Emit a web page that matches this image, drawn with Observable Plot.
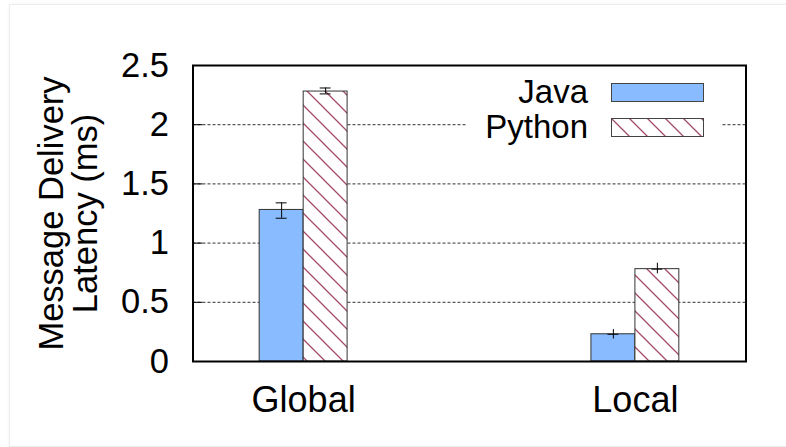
<!DOCTYPE html>
<html>
<head>
<meta charset="utf-8">
<script src="https://cdn.jsdelivr.net/npm/d3@7"></script>
<script src="https://cdn.jsdelivr.net/npm/@observablehq/plot@0.6"></script>
<style>
  html, body { margin: 0; padding: 0; background: #fff; }
  body { width: 786px; height: 447px; position: relative; overflow: hidden; font-family: "Liberation Sans", Arial, Helvetica, sans-serif; }
  #page { position: absolute; left: 9px; top: 4px; width: 790px; height: 441px; border: 1px solid #ececec; box-shadow: 0 0 3px rgba(0,0,0,0.06); }
  #chart { position: absolute; left: 0; top: 0; }
  #legend { position: absolute; left: 467px; top: 73px; width: 255px; height: 68px; background: #fff; }
  .row { position: absolute; left: 0; width: 255px; height: 34px; }
  .row span { position: absolute; right: 134px; top: 0; font-size: 33px; line-height: 34px; color: #000; }
  .row svg { position: absolute; left: 144px; top: 8px; }
</style>
</head>
<body>
<svg width="0" height="0" style="position:absolute">
  <defs>
    <pattern id="hatch" patternUnits="userSpaceOnUse" width="18" height="18">
      <rect width="18" height="18" fill="#fff"></rect>
      <path d="M-1,-1 L19,19 M17,-1 L19,1 M-1,17 L1,19" stroke="#a3496a" stroke-width="1.3" fill="none"></path>
    </pattern>
  </defs>
</svg>
<div id="page"></div>
<div id="chart"></div>
<div id="legend">
  <div class="row" style="top:2px"><span>Java</span><svg width="93" height="19"><rect x="0.5" y="0.5" width="92" height="18" fill="#88bbff" stroke="#444" stroke-width="1"></rect></svg></div>
  <div class="row" style="top:37px"><span>Python</span><svg width="93" height="19"><rect x="0.5" y="0.5" width="92" height="18" fill="url(#hatch)" stroke="#444" stroke-width="1"></rect></svg></div>
</div>
<script>
// ---- data ----
const groups = ["Global", "Local"];
const seriesNames = ["Java", "Python"];
const javaValues = [1.28, 0.23];
const pythonValues = [2.28, 0.78];
const javaLow = [1.21, 0.19];
const javaHigh = [1.34, 0.27];
const pythonLow = [2.26, 0.74];
const pythonHigh = [2.31, 0.83];
const javaCaps = [[1.21, 1.34], [0.23]];
const pythonCaps = [[2.26, 2.31], [0.78]];
const yTicks = [0, 0.5, 1, 1.5, 2, 2.5];
const yTitle = "Message Delivery\nLatency (ms)";

// ---- tables built from the arrays ----
const rows = [];
groups.forEach((g, i) => {
  rows.push({group: g, series: seriesNames[0], value: javaValues[i], lo: javaLow[i], hi: javaHigh[i]});
  rows.push({group: g, series: seriesNames[1], value: pythonValues[i], lo: pythonLow[i], hi: pythonHigh[i]});
});
const caps = [];
groups.forEach((g, i) => {
  javaCaps[i].forEach(v => caps.push({group: g, series: "Java", y: v}));
  pythonCaps[i].forEach(v => caps.push({group: g, series: "Python", y: v}));
});
const javaRows = rows.filter(d => d.series === "Java");
const pythonRows = rows.filter(d => d.series === "Python");

// ---- layout / style constants ----
const W = 786, H = 447;
const mL = 192.5, mR = 40.5, mT = 65, mB = 86;
const innerW = W - mL - mR;
const barW = 44;      // px width of one bar (band holds two)
const capW = 11;      // px width of error caps
const font = "'Liberation Sans', Arial, Helvetica, sans-serif";

const chart = Plot.plot({
  width: W,
  height: H,
  marginLeft: mL,
  marginRight: mR,
  marginTop: mT,
  marginBottom: mB,
  style: {fontFamily: font, background: "transparent", color: "#000", overflow: "visible"},
  x: {domain: groups, paddingInner: 0.735, paddingOuter: 0.201, round: false, label: null},
  y: {domain: [0, 2.5], label: null},
  marks: [
    // dashed grid
    Plot.ruleY(yTicks.slice(1, -1), {stroke: "#333", strokeWidth: 1, strokeDasharray: "3,2"}),
    // inward ticks on left
    Plot.tickY(yTicks.slice(1, -1), {stroke: "#000", strokeWidth: 1, insetRight: innerW - 10}),
    // bars
    Plot.barY(javaRows, {x: "group", y: "value", fill: "#88bbff", stroke: "#333", strokeWidth: 1, insetLeft: 0, insetRight: barW}),
    Plot.barY(pythonRows, {x: "group", y: "value", fill: "url(#hatch)", stroke: "#333", strokeWidth: 1, insetLeft: barW, insetRight: 0}),
    // error bars
    Plot.ruleX(javaRows, {x: "group", y1: "lo", y2: "hi", dx: -barW / 2, stroke: "#000", strokeWidth: 1}),
    Plot.ruleX(pythonRows, {x: "group", y1: "lo", y2: "hi", dx: barW / 2, stroke: "#000", strokeWidth: 1}),
    Plot.tickY(caps.filter(d => d.series === "Java"), {x: "group", y: "y", stroke: "#000", strokeWidth: 1,
      insetLeft: barW / 2 - capW / 2, insetRight: 2 * barW - barW / 2 - capW / 2}),
    Plot.tickY(caps.filter(d => d.series === "Python"), {x: "group", y: "y", stroke: "#000", strokeWidth: 1,
      insetLeft: 2 * barW - barW / 2 - capW / 2, insetRight: barW / 2 - capW / 2}),
    // axes
    Plot.axisY({ticks: yTicks, tickSize: 0, tickPadding: 24, tickFormat: d => String(d), fontSize: 34.5, label: null}),
    Plot.axisX({tickSize: 0, tickPadding: 25, fontSize: 36, label: null}),
    // y title
    Plot.text([yTitle], {frameAnchor: "left", dx: -124, rotate: -90, fontSize: 34.5, lineHeight: 1.0, lineAnchor: "middle", textAnchor: "middle", fill: "#000"}),
    // frame
    Plot.frame({stroke: "#000", strokeWidth: 2})
  ]
});
document.getElementById("chart").appendChild(chart);
</script>
</body>
</html>
